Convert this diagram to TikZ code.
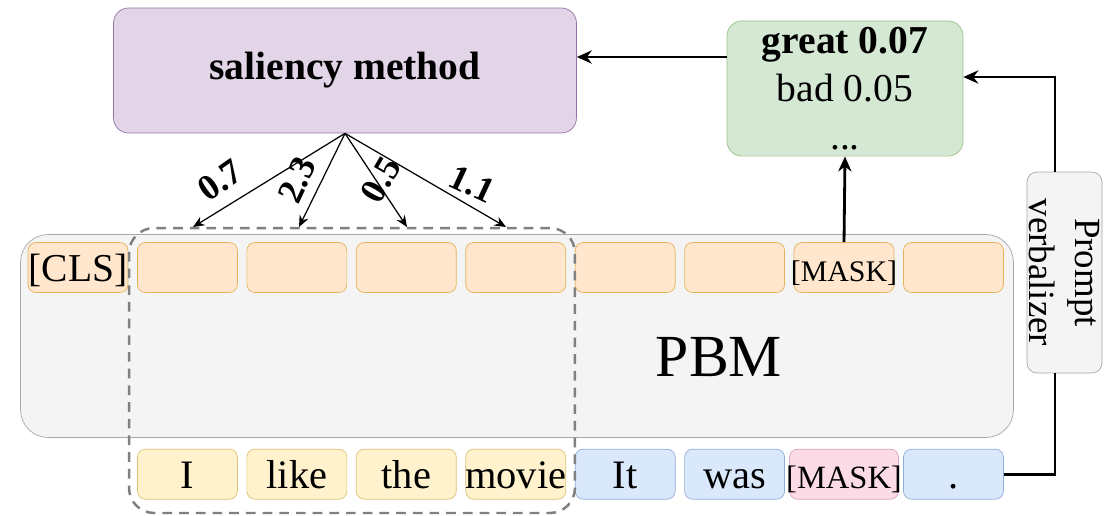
\documentclass[tikz,border=0pt]{standalone}
\usepackage{fontspec}
\setmainfont{Liberation Serif}
\usetikzlibrary{positioning,arrows.meta}

\definecolor{salfill}{HTML}{E1D5E7}
\definecolor{saldraw}{HTML}{9673A6}
\definecolor{probfill}{HTML}{D5E8D4}
\definecolor{probdraw}{HTML}{97C285}
\definecolor{greyfill}{HTML}{F4F4F4}
\definecolor{greydraw}{HTML}{A6A6A6}
\definecolor{tokfill}{HTML}{FFE6CC}
\definecolor{tokdraw}{HTML}{E5B45A}
\definecolor{wordfill}{HTML}{FFF2CC}
\definecolor{worddraw}{HTML}{DDC278}
\definecolor{bluefill}{HTML}{DAE8FC}
\definecolor{bluedraw}{HTML}{91AEDB}
\definecolor{pinkfill}{HTML}{FCDAE6}
\definecolor{pinkdraw}{HTML}{D9A3C3}

\begin{document}
\begin{tikzpicture}[%
		x=0.02cm,
		y=-0.02cm,
		>={Stealth[length=8.5pt,width=7.5pt]},
		salbox/.style={%
			draw=saldraw,
			fill=salfill,
			rounded corners=0.3cm,
			minimum width=9.26cm,
			minimum height=2.5cm,
			font=\fontsize{22.5}{27}\selectfont\bfseries
		},
		probbox/.style={%
			draw=probdraw,
			fill=probfill,
			rounded corners=0.3cm,
			minimum width=4.72cm,
			minimum height=2.62cm,
			align=center,
			font=\fontsize{22.5}{27.5}\selectfont
		},
		greybox/.style={%
			draw=greydraw,
			fill=greyfill,
			rounded corners=0.55cm
		},
		tok/.style={%
			draw=tokdraw,
			fill=tokfill,
			rounded corners=0.16cm,
			minimum width=2cm,
			minimum height=1cm,
			inner sep=0pt,
			text height=16pt,
			text depth=0pt,
			font=\fontsize{22.5}{26}\selectfont
		},
		word/.style={tok, draw=worddraw, fill=wordfill, font=\fontsize{23}{26}\selectfont},
		blueword/.style={word, draw=bluedraw, fill=bluefill},
		maskword/.style={word, draw=pinkdraw, fill=pinkfill, minimum width=2.18cm, font=\fontsize{18.5}{22}\selectfont},
		weight/.style={font=\fontsize{20.5}{24}\selectfont\bfseries, inner sep=0pt},
		link/.style={line width=1.6pt},
		thinlink/.style={line width=0.7pt, >={Stealth[length=6.5pt,width=5.5pt]}}
		]
		\useasboundingbox (0,0) rectangle (1116,515);

		\node[salbox] (sal) at (345,70.5) {saliency method};
		\node[probbox] (probs) at (845,88.5) {\textbf{great 0.07}\\bad 0.05\\...};

		\node[greybox, minimum width=19.86cm, minimum height=4.06cm] (pbm) at (517,336) {};
		\node[font=\fontsize{34}{40}\selectfont] (pbmlabel) at (719,357) {PBM};

		\node[greybox, rounded corners=0.2cm, rotate=-90, minimum width=4.02cm, minimum height=1.5cm,
			align=center, inner sep=0pt, font=\fontsize{21}{26}\selectfont] (verb) at (1064.5,272.5) {Prompt\\verbalizer};

		% encoder outputs
		\node[tok] (cls) at (78,267.5)                  {\makebox[2cm]{[CLS]}};
		\node[tok] (t1) [right=0.175cm of cls]          {};
		\node[tok] (t2) [right=0.175cm of t1]           {};
		\node[tok] (t3) [right=0.175cm of t2]           {};
		\node[tok] (t4) [right=0.175cm of t3]           {};
		\node[tok] (t5) [right=0.175cm of t4]           {};
		\node[tok] (t6) [right=0.175cm of t5]           {};
		\node[tok, font=\fontsize{17}{20}\selectfont] (t7) [right=0.175cm of t6] {\makebox[2cm]{[MASK]}};
		\node[tok] (t8) [right=0.175cm of t7]           {};

		% input words
		\node[word] (w1) [below=3.12cm of t1]           {I};
		\node[word] (w2) [below=3.12cm of t2]           {like};
		\node[word] (w3) [below=3.12cm of t3]           {the};
		\node[word] (w4) [below=3.12cm of t4]           {\makebox[2cm]{movie}};
		\node[blueword] (w5) [below=3.12cm of t5]       {It};
		\node[blueword] (w6) [below=3.12cm of t6]       {was};
		\node[maskword] (w7) [below=3.12cm of t7]       {\makebox[2.18cm]{[MASK]}};
		\node[blueword] (w8) [below=3.12cm of t8]       {.};

		\node[draw=gray, dashed, line width=1.4pt, dash pattern=on 5.5pt off 4pt, rounded corners=0.5cm,
			minimum width=8.92cm, minimum height=5.7cm] (sel) at (352,370.5) {};

		% saliency scores
		\coordinate (s1) at (193,227);
		\coordinate (s2) at (299,227);
		\coordinate (s3) at (407,227);
		\coordinate (s4) at (506,227);
		\draw[thinlink,->] (sal.south) -- (s1);
		\draw[thinlink,->] (sal.south) -- (s2);
		\draw[thinlink,->] (sal.south) -- (s3);
		\draw[thinlink,->] (sal.south) -- (s4);
		\node[weight, rotate=35] (l1) at (220,180)  {0.7};
		\node[weight, rotate=65] (l2) at (297,180)  {2.3};
		\node[weight, rotate=60] (l3) at (381,180)  {0.5};
		\node[weight, rotate=-25] (l4) at (472,184) {1.1};

		\draw[link,->] (t7.north) -- (probs.south);
		\draw[link,->] (probs.west |- 0,57) -- (sal.east |- 0,57);
		\draw[link,->] ([xshift=-0.19cm]verb.west) |- ([yshift=0.23cm]probs.east);
		\draw[link] (w8.east) -| ([xshift=-0.19cm]verb.east);
\end{tikzpicture}
\end{document}
